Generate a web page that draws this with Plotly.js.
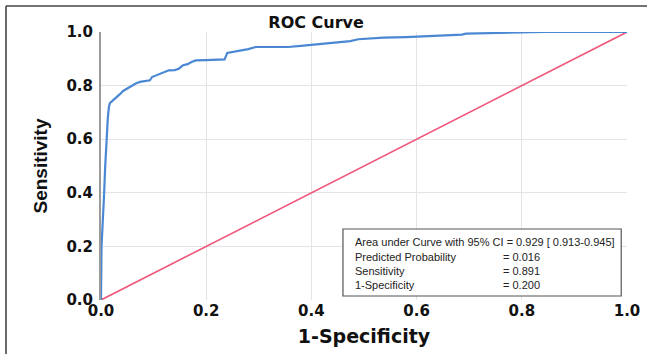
<!DOCTYPE html>
<html>
<head>
<meta charset="utf-8">
<script src="https://cdn.plot.ly/plotly-3.0.1.min.js"></script>
<style>html,body{margin:0;padding:0;background:#fff;}#chart{width:647px;height:354px;}</style>
</head>
<body>
<div id="chart"></div>
<script>
// ROC curve
var fpr = [0, 0, 0.001, 0.002, 0.004, 0.006, 0.008, 0.010, 0.012, 0.013, 0.015, 0.017, 0.020, 0.025, 0.031, 0.036, 0.042, 0.050, 0.058, 0.066, 0.074, 0.085, 0.093, 0.097, 0.105, 0.113, 0.121, 0.129, 0.140, 0.148, 0.156, 0.165, 0.172, 0.180, 0.200, 0.220, 0.235, 0.240, 0.250, 0.262, 0.280, 0.294, 0.330, 0.356, 0.380, 0.403, 0.435, 0.474, 0.489, 0.537, 0.580, 0.631, 0.686, 0.694, 0.740, 0.788, 0.843, 0.900, 1.0];
var tpr = [0, 0.10, 0.20, 0.24, 0.30, 0.40, 0.50, 0.58, 0.64, 0.68, 0.72, 0.735, 0.74, 0.748, 0.758, 0.768, 0.78, 0.79, 0.80, 0.808, 0.814, 0.818, 0.82, 0.832, 0.838, 0.845, 0.85, 0.857, 0.858, 0.863, 0.876, 0.88, 0.888, 0.894, 0.895, 0.896, 0.898, 0.922, 0.925, 0.929, 0.936, 0.944, 0.944, 0.944, 0.948, 0.953, 0.96, 0.966, 0.973, 0.979, 0.981, 0.984, 0.99, 0.994, 0.996, 0.998, 1.0, 1.0, 1.0];
// Reference (chance) line
var refX = [0, 1];
var refY = [0, 1];
// Tick values
var tickVals = [0, 0.2, 0.4, 0.6, 0.8, 1.0];
var tickText = ["0.0", "0.2", "0.4", "0.6", "0.8", "1.0"];
// Summary box text
var boxLabels = ["Area under Curve with 95% CI = 0.929 [ 0.913-0.945]", "Predicted Probability", "Sensitivity", "1-Specificity"];
var boxValues = ["", "= 0.016", "= 0.891", "= 0.200"];

var traces = [
  {x: refX, y: refY, mode: "lines", line: {color: "#f0557a", width: 1.6}, hoverinfo: "skip", showlegend: false},
  {x: fpr, y: tpr, mode: "lines", line: {color: "#4a88d4", width: 2.2, shape: "linear"}, showlegend: false}
];

var boldFont = "'DejaVu Sans', Verdana, sans-serif";
var narrowFont = "'Liberation Sans Narrow', 'Arial Narrow', 'Liberation Sans', sans-serif";

var rowY = [0.216, 0.160, 0.108, 0.056];
var annotations = [];
boxLabels.forEach(function (t, i) {
  annotations.push({x: 0.479, y: rowY[i], xref: "x", yref: "y", text: t, showarrow: false,
    xanchor: "left", yanchor: "middle", font: {family: narrowFont, size: 11, color: "#222"}});
  if (boxValues[i]) {
    annotations.push({x: 0.760, y: rowY[i], xref: "x", yref: "y", text: boxValues[i], showarrow: false,
      xanchor: "left", yanchor: "middle", font: {family: narrowFont, size: 11, color: "#222"}});
  }
});

var layout = {
  width: 647, height: 354,
  margin: {l: 101, r: 20, t: 32, b: 54, pad: 0},
  paper_bgcolor: "#fff", plot_bgcolor: "#fff",
  title: {text: "<b>ROC Curve</b>", font: {family: boldFont, size: 16, color: "#111"},
    x: 0.409, xref: "paper", xanchor: "center", y: 1 - 22 / 354, yref: "container", yanchor: "middle"},
  xaxis: {range: [0, 1], tickvals: tickVals, ticktext: tickText, showgrid: true, gridcolor: "#e4e4e4", gridwidth: 1,
    zeroline: true, zerolinecolor: "#d0d0d0", zerolinewidth: 1, showline: false, ticks: "", fixedrange: true,
    tickfont: {family: boldFont, size: 15, color: "#111", weight: "bold"},
    title: {text: "<b>1-Specificity</b>", font: {family: boldFont, size: 19, color: "#111"}, standoff: 10}},
  yaxis: {range: [0, 1], tickvals: tickVals, ticktext: tickText, showgrid: true, gridcolor: "#e4e4e4", gridwidth: 1,
    zeroline: false, showline: true, linecolor: "#9a9a9a", linewidth: 2, ticks: "", fixedrange: true,
    ticklabelstandoff: 3,
    tickfont: {family: boldFont, size: 15, color: "#111", weight: "bold"},
    title: {text: "<b>Sensitivity</b>", font: {family: narrowFont, size: 19, color: "#111"}, standoff: 14}},
  shapes: [
    {type: "rect", xref: "x", yref: "y", x0: 0.46, x1: 0.989, y0: 0.015, y1: 0.265,
      line: {color: "#555", width: 1.2}, fillcolor: "rgba(255,255,255,1)", layer: "above"},
    {type: "line", xref: "paper", yref: "paper", x0: -0.1806, x1: 1.1, y0: 1 + 26 / 268, y1: 1 + 26 / 268,
      line: {color: "#444", width: 1.6}},
    {type: "line", xref: "paper", yref: "paper", x0: -0.1806, x1: -0.1806, y0: 1 + 26 / 268, y1: -0.3,
      line: {color: "#444", width: 1.6}}
  ],
  annotations: annotations,
  showlegend: false
};

Plotly.newPlot("chart", traces, layout, {displayModeBar: false, staticPlot: true});
</script>
</body>
</html>
